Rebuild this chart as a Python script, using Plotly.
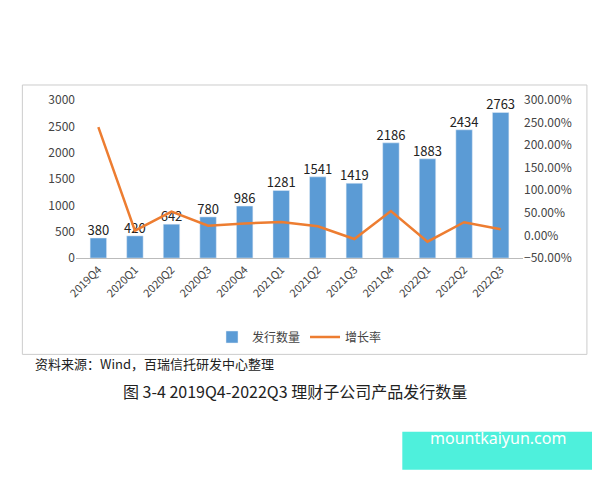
import plotly.graph_objects as go

cats = ["2019Q4","2020Q1","2020Q2","2020Q3","2020Q4","2021Q1","2021Q2","2021Q3","2021Q4","2022Q1","2022Q2","2022Q3"]
counts = [380,420,642,780,986,1281,1541,1419,2186,1883,2434,2763]
growth = [240.0,10.5,52.9,21.5,26.4,29.9,20.3,-7.9,54.1,-13.9,29.3,13.5]

fig = go.Figure()
fig.add_trace(go.Bar(x=cats, y=counts, name="发行数量", marker_color="#5b9bd5", width=0.45))
fig.add_trace(go.Scatter(x=cats, y=growth, name="增长率", yaxis="y2", mode="lines",
                         line=dict(color="#ed7d31", width=2.5)))
fig.add_trace(go.Scatter(x=cats, y=counts, mode="text", text=[str(v) for v in counts],
                         textposition="top center", textfont=dict(size=13, color="#222"),
                         showlegend=False, cliponaxis=False, hoverinfo="skip"))

fig.update_layout(
    width=600, height=480, paper_bgcolor="white", plot_bgcolor="white",
    margin=dict(l=68, r=85, t=92, b=230),
    font=dict(family="Noto Sans CJK SC", size=12, color="#444"),
    xaxis=dict(tickangle=-45, showline=True, linecolor="#bbb", ticks="", tickfont=dict(size=11)),
    yaxis=dict(range=[0,3000], dtick=500, showgrid=False, showline=False, tickfont=dict(size=12)),
    yaxis2=dict(range=[-50,300], dtick=50, overlaying="y", side="right", showgrid=False,
                ticksuffix=".00%", tickfont=dict(size=12)),
    legend=dict(orientation="h", x=0.5, xanchor="center", y=-0.5, yanchor="middle", font=dict(size=12)),
    shapes=[dict(type="rect", xref="paper", yref="paper", x0=-0.12, x1=1.143, y0=-0.61, y1=1.095,
                 line=dict(color="#ccc", width=1)),
            dict(type="rect", xref="paper", yref="paper", x0=0.73, x1=1.16, y0=-1.34, y1=-1.10,
                 fillcolor="#4ef0dc", line=dict(width=0), layer="above")],
    annotations=[
        dict(text="资料来源：Wind，百瑞信托研发中心整理", xref="paper", yref="paper", x=-0.096, y=-0.74,
             xanchor="left", showarrow=False, font=dict(size=13, color="#222")),
        dict(text="图 3-4 2019Q4-2022Q3 理财子公司产品发行数量", xref="paper", yref="paper", x=0.49, y=-0.93,
             xanchor="center", showarrow=False, font=dict(size=16, color="#222")),
        dict(text="mountkaiyun.com", xref="paper", yref="paper", x=0.945, y=-1.22,
             xanchor="center", showarrow=False, font=dict(size=16, color="white", family="Noto Sans")),
    ],
)
fig.write_html("out.html")
